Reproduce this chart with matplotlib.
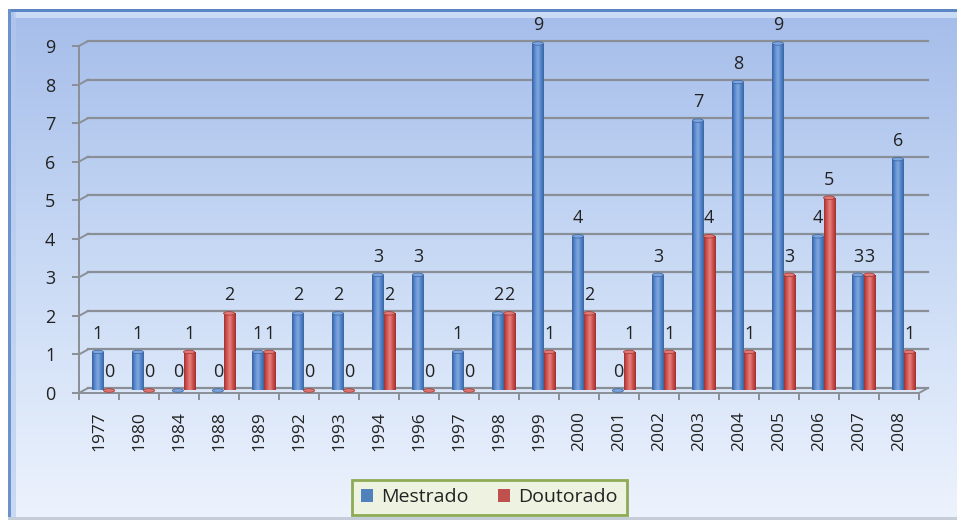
import numpy as np
import matplotlib
matplotlib.use("Agg")
import matplotlib.pyplot as plt
from matplotlib.colors import LinearSegmentedColormap
from matplotlib.patches import Rectangle, Ellipse, Patch
from matplotlib.transforms import ScaledTranslation

plt.rcParams['font.family'] = ['Open Sans', 'DejaVu Sans']

# dados do grafico
anos = ['1977', '1980', '1984', '1988', '1989', '1992', '1993', '1994', '1996', '1997', '1998',
        '1999', '2000', '2001', '2002', '2003', '2004', '2005', '2006', '2007', '2008']
mestrado = [1, 1, 0, 0, 1, 2, 2, 3, 3, 1, 2, 9, 4, 0, 3, 7, 8, 9, 4, 3, 6]
doutorado = [0, 0, 1, 2, 1, 0, 0, 2, 0, 0, 2, 1, 2, 1, 1, 4, 1, 3, 5, 3, 1]
series = ['Mestrado', 'Doutorado']

W, H, DPI = 957, 520, 100
fig = plt.figure(figsize=(W / DPI, H / DPI), dpi=DPI)
fig.patch.set_facecolor('white')

# fundo com moldura em degrade
bg = fig.add_axes([0, 0, 1, 1])
bg.set_xlim(0, W)
bg.set_ylim(H, 0)
bg.axis('off')
grad = np.linspace(0, 1, 256).reshape(-1, 1)
cm_bg = LinearSegmentedColormap.from_list('bg', ['#a5bdea', '#c9daf5', '#edf3fd'])
bg.imshow(grad, cmap=cm_bg, extent=[8, W, H - 2, 11], aspect='auto', zorder=0)
bg.add_patch(Rectangle((8, 9), W - 8, 2.5, color='#5b85c5', lw=0, zorder=1))
bg.add_patch(Rectangle((14, 12), W - 14, 6, color='#d3e3f8', lw=0, alpha=0.8, zorder=1))
bg.add_patch(Rectangle((8, 9), 3, H - 9, color='#6c92cc', lw=0, zorder=1))
bg.add_patch(Rectangle((11, 12), 5, H - 12, color='#b3c9ee', lw=0, alpha=0.6, zorder=1))
bg.add_patch(Rectangle((8, H - 3), W - 8, 3, color='#c5cdd8', lw=0, zorder=1))

# eixo principal (plano da frente)
ax = fig.add_axes([79 / W, (H - 393) / H, 840 / W, 347 / H])
ax.set_xlim(-0.5, 20.5)
ax.set_ylim(0, 9)
ax.patch.set_visible(False)

fundo = ax.transData + ScaledTranslation(9 / DPI, 5 / DPI, fig.dpi_scale_trans)
meio = ax.transData + ScaledTranslation(4.5 / DPI, 2.5 / DPI, fig.dpi_scale_trans)

cinza = '#8a8e96'
for k in range(10):
    ax.plot([-0.5, 20.5], [k, k], color=cinza, lw=1.6, transform=fundo, clip_on=False, zorder=1)
    ax.plot([-0.5, -0.5 + 9 / 40], [k, k + 5 / 38.6], color=cinza, lw=1.4, clip_on=False, zorder=1)
ax.plot([20.5, 20.5 + 9 / 40], [0, 5 / 38.6], color=cinza, lw=1.4, clip_on=False, zorder=1)

for s in ['top', 'right']:
    ax.spines[s].set_visible(False)
for s in ['left', 'bottom']:
    ax.spines[s].set_color(cinza)
    ax.spines[s].set_linewidth(1.4)

x = np.arange(len(anos))
ax.set_xticks(x)
ax.set_xticklabels(anos, rotation=90, fontsize=12.5, color='#222222')
ax.set_xticks(np.arange(len(anos) + 1) - 0.5, minor=True)
ax.tick_params(axis='x', which='major', length=0, pad=13)
ax.tick_params(axis='x', which='minor', length=5, width=1.4, color=cinza)
ax.set_yticks(range(10))
ax.tick_params(axis='y', length=5, width=1.4, color=cinza, labelsize=13, pad=12,
               labelcolor='#222222')

# barras cilindricas
cm_azul = LinearSegmentedColormap.from_list('az', ['#3763a2', '#5b8bd0', '#82a9e0', '#5284c8', '#3a66a3'])
cm_verm = LinearSegmentedColormap.from_list('vm', ['#a3322f', '#d05855', '#e8817e', '#c94f4c', '#a0302d'])
larg = 0.28
faixa = np.linspace(0, 1, 64).reshape(1, -1)
for vals, dx, cmap, topo in [(mestrado, -0.14, cm_azul, '#7ea4dc'),
                             (doutorado, 0.14, cm_verm, '#e07a77')]:
    for xi, v in zip(x, vals):
        x0 = xi + dx - larg / 2
        if v > 0:
            r = Rectangle((x0, 0), larg, v, transform=meio)
            im = ax.imshow(faixa, cmap=cmap, extent=[x0, x0 + larg, 0, v], aspect='auto',
                           transform=meio, zorder=3)
            im.set_clip_path(r)
        ax.add_patch(Ellipse((xi + dx, v), larg, 0.09, transform=meio, facecolor=topo,
                             edgecolor=cmap(0.0), lw=0.5, zorder=4, clip_on=False))
        ax.annotate(str(v), (xi + dx, v), xycoords=meio, xytext=(0, 9.5),
                    textcoords='offset points', ha='center', va='baseline',
                    fontsize=13, color='#222222', zorder=5, annotation_clip=False)

ax.set_xlim(-0.5, 20.5)
ax.set_ylim(0, 9)

handles = [Patch(facecolor='#4f81bd', edgecolor='none'), Patch(facecolor='#c0504d', edgecolor='none')]
leg = fig.legend(handles, series, loc='center', bbox_to_anchor=(489.5 / W, (H - 497.5) / H),
                 ncol=2, fontsize=14, handlelength=0.6, handleheight=0.6, handletextpad=0.45,
                 columnspacing=1.5, borderpad=0.45, borderaxespad=0, fancybox=False, frameon=True)
leg.get_frame().set_facecolor('#eef3e1')
leg.get_frame().set_edgecolor('#8dab54')
leg.get_frame().set_linewidth(2)
leg.get_frame().set_alpha(1)
for t in leg.get_texts():
    t.set_color('#222222')

fig.savefig('out.png', dpi=DPI)
